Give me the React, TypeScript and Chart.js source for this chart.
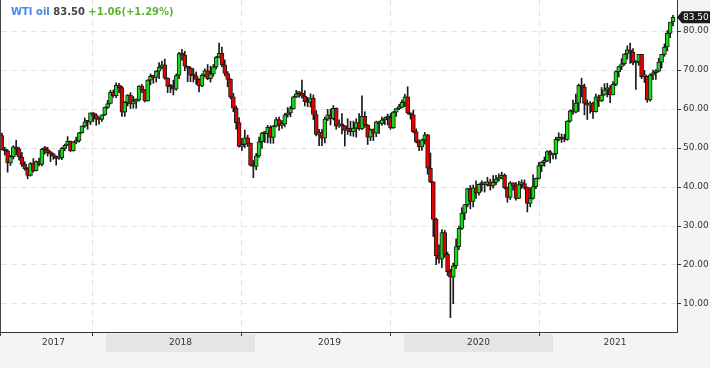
import React, { useEffect, useRef } from 'react';
import { Chart, registerables } from 'chart.js';
Chart.register(...registerables);

// Weekly candles, week ending Friday, first week ends 2017-04-21
const FIRST_WEEK_END = '2017-04-21';

const opens = [
  // 2017
  53.2,49.6,49.3,46.2,47.8,50.3,49.8,47.7,45.8,44.7,43.0,46.0,44.2,46.5,45.8,49.7,49.6,48.8,48.5,47.9,47.3,47.5,49.9,50.7,51.7,49.3,51.5,51.8,53.9,55.6,56.7,56.6,59.0,58.4,57.4,57.3,58.5,
  // 2018
  60.4,61.4,64.3,63.4,66.1,65.5,59.2,61.7,63.6,61.3,62.0,62.3,65.9,64.9,62.1,67.4,68.4,68.1,69.7,70.7,71.3,67.9,65.8,65.7,65.1,68.6,74.2,73.8,71.0,70.5,68.7,68.5,67.6,65.9,68.7,69.8,67.8,69.0,70.8,73.3,74.3,71.3,69.1,67.6,63.1,60.2,56.5,50.4,50.9,52.6,51.2,45.6,
  // 2019
  45.3,48.0,51.6,53.8,53.7,55.3,52.7,55.6,57.3,55.8,56.1,58.5,59.0,60.1,63.1,63.9,64.0,63.3,61.9,61.7,62.8,58.6,53.5,54.0,52.5,57.4,58.5,57.5,60.2,55.6,56.2,55.7,54.5,54.9,54.2,55.1,56.5,54.9,58.1,55.9,52.8,54.7,53.8,56.7,56.2,57.2,57.7,57.8,55.2,59.2,60.1,60.4,
  // 2020
  61.7,63.1,59.0,58.5,54.2,51.6,50.3,52.1,53.4,44.8,41.3,31.7,22.4,21.5,28.3,22.8,18.3,16.9,19.8,24.7,29.4,33.3,35.5,39.6,36.3,39.8,38.5,40.7,40.6,40.6,41.3,40.3,41.2,42.0,42.3,43.0,39.8,37.3,41.1,40.3,37.1,40.6,40.9,39.9,35.8,37.1,40.1,42.2,45.5,46.3,46.6,49.1,48.2,
  // 2021
  48.5,52.2,52.4,52.3,52.2,56.9,59.5,59.2,61.5,66.1,65.6,61.4,61.0,61.5,59.3,63.1,62.1,63.6,64.9,65.4,63.6,66.3,69.6,70.9,71.6,74.1,75.2,74.6,71.8,72.1,74.0,68.3,68.4,62.3,68.7,69.3,69.7,72.0,74.0,75.9,79.4,82.3,
];

const highs = [
  // 2017
  53.8,50.2,49.6,48.1,50.6,52.0,50.2,48.8,46.5,45.0,46.3,47.3,46.7,47.4,49.9,50.4,50.2,49.2,48.7,48.0,49.4,50.2,51.0,52.9,51.8,51.6,52.8,54.0,55.7,57.7,57.0,59.0,59.1,58.8,58.0,58.5,60.5,
  // 2018
  62.2,64.8,64.9,66.7,66.6,65.9,61.9,63.7,64.2,63.2,62.6,66.0,66.3,65.0,67.5,69.0,68.6,69.8,71.9,72.3,72.8,68.0,66.3,67.4,69.0,74.5,75.3,74.8,71.0,70.8,70.4,69.5,67.8,69.0,70.3,71.4,71.0,71.4,73.5,76.9,75.9,72.6,69.6,67.8,64.0,60.8,57.8,52.5,54.6,53.3,51.3,46.8,
  // 2019
  48.6,52.8,54.0,54.2,55.8,55.7,55.8,57.8,57.9,57.0,58.9,60.4,60.7,63.3,64.8,64.5,67.4,64.7,63.0,63.9,63.6,59.6,54.8,54.8,57.9,59.9,60.0,60.9,60.3,57.2,58.8,55.8,57.5,56.9,56.9,57.5,58.8,63.4,59.3,56.0,54.9,54.9,56.9,56.9,57.9,57.9,58.7,58.8,59.4,60.2,61.2,62.3,
  // 2020
  63.8,65.7,59.0,59.7,54.9,52.1,52.3,54.0,53.5,48.7,41.4,32.0,25.2,29.1,28.9,23.3,18.9,20.5,26.7,30.0,34.7,35.5,39.7,40.4,40.5,41.6,40.8,41.6,41.3,42.5,42.0,42.9,43.0,43.4,43.8,43.4,40.0,41.4,41.1,41.2,41.5,41.8,41.8,40.0,39.8,43.1,42.3,46.3,46.5,47.7,49.3,49.4,48.6,
  // 2021
  52.8,53.9,53.6,53.5,57.0,59.8,62.3,63.8,66.4,67.9,66.4,62.3,61.9,61.8,63.8,63.6,65.5,66.5,66.6,66.0,67.0,69.8,71.0,72.9,74.2,76.2,76.9,75.5,72.4,74.0,74.0,69.9,68.5,69.0,70.0,70.1,73.0,74.0,76.7,80.1,82.2,84.0,
];

const lows = [
  // 2017
  49.5,48.2,43.8,45.5,47.2,48.2,46.9,45.2,44.3,42.1,42.8,43.8,44.1,45.4,45.4,48.4,47.9,46.5,47.1,45.6,47.1,47.0,49.3,50.6,49.1,49.2,51.1,51.5,53.8,55.3,54.8,56.0,56.8,55.8,56.1,56.8,58.3,
  // 2018
  60.1,61.3,63.0,62.9,64.2,58.1,58.1,60.8,60.1,60.2,60.2,62.0,64.2,61.8,62.0,66.2,66.6,66.9,67.8,70.3,67.6,64.2,64.2,63.6,64.8,67.8,72.5,69.8,67.0,67.0,66.9,66.3,64.4,65.7,68.2,67.5,66.9,68.4,70.3,73.1,70.8,68.5,65.7,62.6,59.3,54.8,50.2,49.4,50.1,50.4,45.4,42.4,
  // 2019
  44.4,47.6,49.9,51.4,51.3,51.2,51.2,55.4,54.5,55.0,55.4,57.9,58.0,60.0,62.9,63.0,62.8,60.8,60.6,60.5,57.3,53.1,50.6,50.6,51.3,57.0,55.9,57.2,54.8,55.3,53.6,50.5,53.5,53.1,53.0,52.8,54.6,54.7,55.3,50.9,51.9,51.9,52.9,53.7,55.8,56.0,55.9,54.8,55.0,58.1,59.8,60.3,
  // 2020
  60.6,58.7,57.4,53.9,51.3,49.3,49.4,51.0,43.3,41.1,27.3,20.1,20.5,19.3,22.0,17.3,6.5,10.1,19.1,23.9,29.1,31.6,34.9,34.4,34.9,37.1,37.9,38.9,38.7,40.2,39.2,39.7,40.6,41.5,42.1,39.5,36.1,36.8,39.2,36.6,37.0,39.6,39.4,33.6,34.9,36.9,39.6,42.0,43.9,45.3,46.5,46.2,47.2,
  // 2021
  47.2,51.8,51.4,51.6,52.0,56.6,58.6,59.0,59.4,63.1,58.5,57.3,58.9,57.6,59.2,60.6,61.9,63.5,63.1,61.6,63.6,66.0,68.2,70.1,71.2,72.8,71.7,71.3,65.0,71.2,67.8,66.8,61.7,62.0,67.5,67.6,69.5,70.5,73.5,74.9,78.3,81.3,
];

const closes = [
  // 2017
  49.6,49.3,46.2,47.8,50.3,49.8,47.7,45.8,44.7,43.0,46.0,44.2,46.5,45.8,49.7,49.6,48.8,48.5,47.9,47.3,47.5,49.9,50.7,51.7,49.3,51.5,51.8,53.9,55.6,56.7,56.6,59.0,58.4,57.4,57.3,58.5,60.4,
  // 2018
  61.4,64.3,63.4,66.1,65.5,59.2,61.7,63.6,61.3,62.0,62.3,65.9,64.9,62.1,67.4,68.4,68.1,69.7,70.7,71.3,67.9,65.8,65.7,65.1,68.6,74.2,73.8,71.0,70.5,68.7,68.5,67.6,65.9,68.7,69.8,67.8,69.0,70.8,73.3,74.3,71.3,69.1,67.6,63.1,60.2,56.5,50.4,50.9,52.6,51.2,45.6,45.3,
  // 2019
  48.0,51.6,53.8,53.7,55.3,52.7,55.6,57.3,55.8,56.1,58.5,59.0,60.1,63.1,63.9,64.0,63.3,61.9,61.7,62.8,58.6,53.5,54.0,52.5,57.4,58.5,57.5,60.2,55.6,56.2,55.7,54.5,54.9,54.2,55.1,56.5,54.9,58.1,55.9,52.8,54.7,53.8,56.7,56.2,57.2,57.7,57.8,55.2,59.2,60.1,60.4,61.7,
  // 2020
  63.1,59.0,58.5,54.2,51.6,50.3,52.1,53.4,44.8,41.3,31.7,22.4,21.5,28.3,22.8,18.3,16.9,19.8,24.7,29.4,33.3,35.5,39.6,36.3,39.8,38.5,40.7,40.6,40.6,41.3,40.3,41.2,42.0,42.3,43.0,39.8,37.3,41.1,40.3,37.1,40.6,40.9,39.9,35.8,37.1,40.1,42.2,45.5,46.3,46.6,49.1,48.2,48.5,
  // 2021
  52.2,52.4,52.3,52.2,56.9,59.5,59.2,61.5,66.1,65.6,61.4,61.0,61.5,59.3,63.1,62.1,63.6,64.9,65.4,63.6,66.3,69.6,70.9,71.6,74.1,75.2,74.6,71.8,72.1,74.0,68.3,68.4,62.3,68.7,69.3,69.7,72.0,74.0,75.9,79.4,82.3,83.5,
];

const yTickValues = [10, 20, 30, 40, 50, 60, 70, 80];
const yearLabels = [2017, 2018, 2019, 2020, 2021];
const shadedYears = [2018, 2020];
const instrument = 'WTI oil';
const lastPrice = 83.5;
const lastPriceText = '83.50';
const changeText = '+1.06(+1.29%)';

const UP = '#16d916';
const DOWN = '#e40000';
const INK = '#1a1a1a';
const FONT = '"DejaVu Sans", Verdana, sans-serif';

function fracYear(ms: number): number {
  const d = new Date(ms);
  const y = d.getUTCFullYear();
  const s = Date.UTC(y, 0, 1);
  const e = Date.UTC(y + 1, 0, 1);
  return y + (ms - s) / (e - s);
}

const startMs = Date.parse(FIRST_WEEK_END + 'T00:00:00Z');
const weekX = opens.map((_, i) => fracYear(startMs + i * 7 * 86400000));

const decor = {
  id: 'decor',
  beforeDraw(chart: any) {
    const { ctx, chartArea: a, width, height } = chart;
    const xs = chart.scales.x;
    ctx.save();
    ctx.fillStyle = '#f3f4f6';
    ctx.fillRect(0, 0, width, height);
    ctx.fillStyle = '#ffffff';
    ctx.fillRect(0, a.top, a.right, a.bottom - a.top);
    ctx.fillStyle = '#e4e5e7';
    for (const y of shadedYears) {
      const x0 = Math.round(Math.max(a.left, xs.getPixelForValue(y)));
      const x1 = Math.round(Math.min(a.right, xs.getPixelForValue(y + 1)));
      if (x1 > x0) ctx.fillRect(x0, a.bottom + 2, x1 - x0, 18);
    }
    ctx.fillStyle = '#333';
    ctx.font = '9px ' + FONT;
    ctx.textAlign = 'center';
    ctx.textBaseline = 'middle';
    for (const y of yearLabels) {
      const x0 = Math.max(a.left, xs.getPixelForValue(y));
      const x1 = Math.min(a.right, xs.getPixelForValue(y + 1));
      if (x1 > x0) ctx.fillText(String(y), (x0 + x1) / 2, a.bottom + 11);
    }
    ctx.restore();
  },
  afterDraw(chart: any) {
    const { ctx, chartArea: a, width } = chart;
    const ys = chart.scales.y;
    ctx.save();
    // left frame line
    ctx.strokeStyle = '#444';
    ctx.lineWidth = 1;
    ctx.beginPath();
    ctx.moveTo(0.5, 0);
    ctx.lineTo(0.5, a.bottom + 4);
    ctx.stroke();
    // header
    ctx.font = 'bold 10px ' + FONT;
    ctx.textAlign = 'left';
    ctx.textBaseline = 'alphabetic';
    let x = 11;
    const yb = 15;
    ctx.fillStyle = '#4a86e6';
    ctx.fillText(instrument + ' ', x, yb);
    x += ctx.measureText(instrument + ' ').width;
    ctx.fillStyle = '#444';
    ctx.fillText(lastPriceText + ' ', x, yb);
    x += ctx.measureText(lastPriceText + ' ').width;
    ctx.fillStyle = '#5cb531';
    ctx.fillText(changeText, x, yb);
    // price tag
    const py = ys.getPixelForValue(lastPrice);
    ctx.fillStyle = INK;
    ctx.beginPath();
    ctx.moveTo(a.right, py);
    ctx.lineTo(a.right + 5, py - 6);
    ctx.lineTo(width, py - 6);
    ctx.lineTo(width, py + 6);
    ctx.lineTo(a.right + 5, py + 6);
    ctx.closePath();
    ctx.fill();
    ctx.fillStyle = '#fff';
    ctx.font = '9px ' + FONT;
    ctx.textBaseline = 'middle';
    ctx.fillText(lastPriceText, a.right + 6, py + 0.5);
    ctx.restore();
  },
};

export default function App() {
  const ref = useRef<HTMLCanvasElement | null>(null);
  useEffect(() => {
    if (!ref.current) return;
    const bodyColors = opens.map((o, i) => (closes[i] >= o ? UP : DOWN));
    const chart = new Chart(ref.current, {
      type: 'bar',
      data: {
        datasets: [
          {
            label: 'wick',
            data: weekX.map((x, i) => ({ x, y: [lows[i], highs[i]] })) as any,
            backgroundColor: INK,
            borderWidth: 0,
            barThickness: 1,
            grouped: false,
            order: 2,
          } as any,
          {
            label: 'body',
            data: weekX.map((x, i) => ({ x, y: [opens[i], closes[i]] })) as any,
            backgroundColor: bodyColors,
            borderColor: INK,
            borderWidth: 1,
            borderSkipped: false,
            barThickness: 4,
            minBarLength: 2,
            grouped: false,
            order: 1,
          } as any,
        ],
      },
      options: {
        animation: false,
        responsive: false,
        events: [],
        layout: { padding: { left: 1, top: 0, right: 0, bottom: 0 }, autoPadding: false } as any,
        plugins: { legend: { display: false }, tooltip: { enabled: false } },
        scales: {
          x: {
            type: 'linear',
            min: 2018 - 105 / 149,
            max: 2018 + 571 / 149,
            offset: false,
            afterBuildTicks: (s: any) => {
              s.ticks = yearLabels.slice(1).map((y) => ({ value: y - 0.088 }));
            },
            afterFit: (s: any) => {
              s.height = 36;
              s.paddingLeft = 0;
              s.paddingRight = 0;
            },
            ticks: { display: false },
            grid: {
              offset: false,
              color: '#e3e3e3',
              tickColor: '#333',
              tickLength: 4,
              tickBorderDash: [1, 0],
              lineWidth: 1,
            },
            border: { display: true, color: '#333', width: 1, dash: [6, 4] },
          } as any,
          y: {
            type: 'linear',
            position: 'right',
            min: 2.82,
            max: 87.95,
            afterBuildTicks: (s: any) => {
              s.ticks = yTickValues.map((v) => ({ value: v }));
            },
            afterFit: (s: any) => {
              s.width = 33;
              s.paddingTop = 0;
              s.paddingBottom = 0;
            },
            ticks: {
              callback: (v: any) => Number(v).toFixed(2),
              color: '#333',
              font: { family: FONT, size: 9 },
              padding: 2,
            },
            grid: {
              color: '#e3e3e3',
              tickColor: '#333',
              tickLength: 4,
              tickBorderDash: [1, 0],
            },
            border: { display: true, color: '#333', width: 1, dash: [6, 4] },
          } as any,
        },
      },
      plugins: [decor],
    });
    return () => chart.destroy();
  }, []);
  return (
    <div style={{ position: 'fixed', left: 0, top: 0, width: 710, height: 368 }}>
      <canvas ref={ref} width={710} height={368} style={{ display: 'block', width: 710, height: 368 }} />
    </div>
  );
}
